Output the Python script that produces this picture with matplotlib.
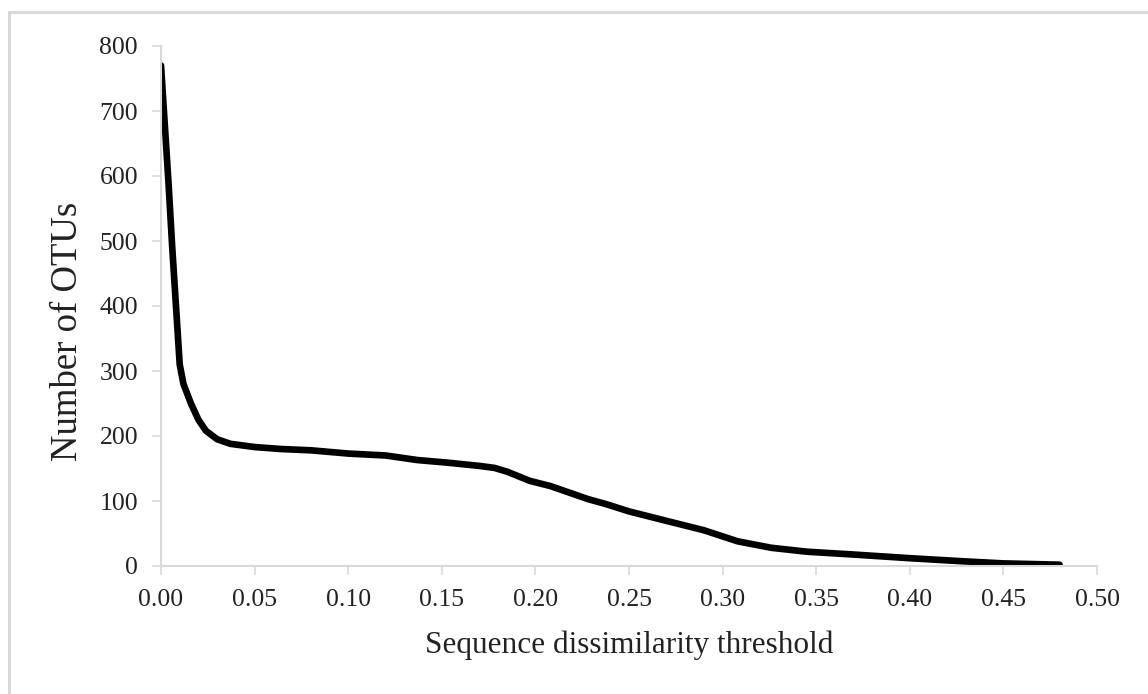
import matplotlib
matplotlib.use("Agg")
import matplotlib.pyplot as plt
from matplotlib.patches import Rectangle

# Data
threshold = [0.000, 0.002, 0.004, 0.006, 0.008, 0.010, 0.012, 0.016, 0.020, 0.024,
             0.030, 0.037, 0.050, 0.064, 0.080, 0.100, 0.120, 0.137, 0.153, 0.170,
             0.178, 0.185, 0.197, 0.208, 0.228, 0.238, 0.250, 0.272, 0.290, 0.308,
             0.326, 0.345, 0.368, 0.400, 0.430, 0.450, 0.480]
otus = [770, 680, 590, 490, 400, 310, 280, 250, 225, 208,
        195, 188, 183, 180, 178, 173, 170, 163, 159, 154,
        151, 145, 131, 123, 103, 95, 84, 68, 55, 38,
        28, 22, 18, 12, 7, 4, 2]
xticks = [0.00, 0.05, 0.10, 0.15, 0.20, 0.25, 0.30, 0.35, 0.40, 0.45, 0.50]
yticks = [0, 100, 200, 300, 400, 500, 600, 700, 800]

plt.rcParams['font.family'] = ['Liberation Serif', 'DejaVu Serif']

W, H = 1148, 694
fig = plt.figure(figsize=(W / 100, H / 100), dpi=100)
fig.patch.set_facecolor('white')

# outer chart border (light gray), cut off on right/bottom as in reference
border = Rectangle((9 / W, -0.1), 1.2, 1 - 12.5 / H + 0.1, transform=fig.transFigure,
                   fill=False, edgecolor='#d9d9d9', linewidth=2.2, clip_on=False)
fig.patches.append(border)

ax = fig.add_axes([161 / W, 1 - 566 / H, (1097 - 161) / W, (566 - 46) / H])
ax.plot(threshold, otus, color='black', linewidth=4.8, solid_joinstyle='round',
        solid_capstyle='round')

ax.set_xlim(0, 0.5)
ax.set_ylim(0, 800)
ax.set_xticks(xticks)
ax.set_xticklabels([f"{v:.2f}" for v in xticks])
ax.set_yticks(yticks)
ax.set_yticklabels([str(v) for v in yticks])

for s in ['top', 'right']:
    ax.spines[s].set_visible(False)
for s in ['left', 'bottom']:
    ax.spines[s].set_color('#d9d9d9')
    ax.spines[s].set_linewidth(1.5)

ax.tick_params(axis='both', direction='out', length=6.5, width=1.2, color='#d9d9d9',
               labelsize=18.5, labelcolor='#222222', pad=10)

ax.set_xlabel('Sequence dissimilarity threshold', fontsize=22.5, color='#222222', labelpad=14)
ax.set_ylabel('Number of OTUs', fontsize=26.5, color='#222222')
ax.yaxis.set_label_coords(-0.081, 0.452)

fig.savefig('out.png', dpi=100, facecolor='white')
